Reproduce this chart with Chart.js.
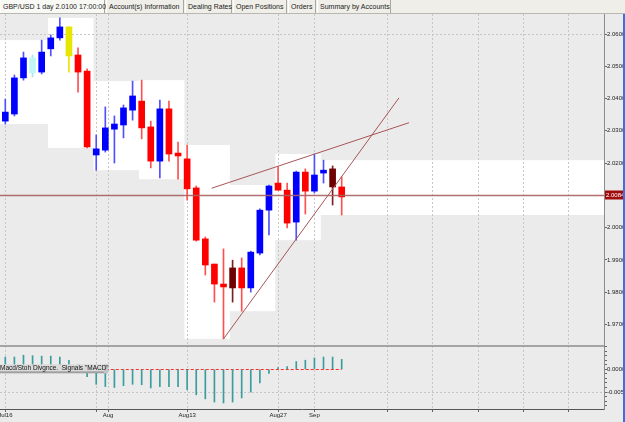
<!DOCTYPE html>
<html>
<head>
<meta charset="utf-8">
<script src="https://cdn.jsdelivr.net/npm/chart.js@4.4.0/dist/chart.umd.min.js"></script>
<style>
  html, body { margin: 0; padding: 0; background: #ebebeb; overflow: hidden; }
  #tabs { position: absolute; left: 0; top: 0; width: 625px; height: 13px; background: #efeee8;
          border-bottom: 1px solid #b8b8b0; font: 7px "Liberation Sans", Arial, sans-serif; color: #222;
          white-space: nowrap; }
  .tab { position: absolute; top: 0; height: 13px; line-height: 13px; box-sizing: border-box;
         border-right: 1px solid #a8a8a0; border-left: 1px solid #fff; padding-left: 2px; }
  .tab.sel { background: #f8f8f4; }
  #wrap { position: absolute; left: 0; top: 14px; width: 625px; height: 408px; }
</style>
</head>
<body>
<div id="tabs">
  <span class="tab sel" style="left:0;width:105px">GBP/USD 1 day 2.0100 17:00:00</span>
  <span class="tab" style="left:106px;width:78px">Account(s) Information</span>
  <span class="tab" style="left:185px;width:47px">Dealing Rates</span>
  <span class="tab" style="left:233px;width:54px">Open Positions</span>
  <span class="tab" style="left:288px;width:28px">Orders</span>
  <span class="tab" style="left:317px;width:74px">Summary by Accounts</span>
</div>
<div id="wrap"><canvas id="chart" width="625" height="408"></canvas></div>
<script>
// GBP/USD daily candles, Jul 16 - Sep 5
const days = ['Jul16','Jul17','Jul18','Jul19','Jul20','Jul23','Jul24','Jul25','Jul26','Jul27',
              'Jul30','Jul31','Aug01','Aug02','Aug03','Aug06','Aug07','Aug08','Aug09','Aug10',
              'Aug13','Aug14','Aug15','Aug16','Aug17','Aug20','Aug21','Aug22','Aug23','Aug24',
              'Aug27','Aug28','Aug29','Aug30','Aug31','Sep03','Sep04','Sep05'];

const open  = [2.0330,2.0352,2.0464,2.0526,2.0482,2.0554,2.0588,2.0622,2.0535,2.0485,
               2.0225,2.0240,2.0305,2.0318,2.0364,2.0392,2.0312,2.0206,2.0368,2.0231,
               2.0213,2.0123,1.9965,1.9887,1.9825,1.9813,1.9875,1.9813,1.9921,2.0054,
               2.0138,2.0116,2.0017,2.0172,2.0113,2.0169,2.0182,2.0126];
const high  = [2.0398,2.0473,2.0544,2.0535,2.0581,2.0597,2.0650,2.0622,2.0557,2.0492,
               2.0287,2.0374,2.0346,2.0380,2.0454,2.0457,2.0330,2.0395,2.0392,2.0265,
               2.0256,2.0129,1.9971,1.9887,1.9934,1.9899,1.9906,1.9927,2.0058,2.0132,
               2.0188,2.0138,2.0175,2.0182,2.0228,2.0209,2.0191,2.0157];
const low   = [2.0321,2.0346,2.0457,2.0467,2.0476,2.0532,2.0581,2.0482,2.0420,2.0247,
               2.0178,2.0234,2.0200,2.0278,2.0333,2.0275,2.0185,2.0154,2.0206,2.0150,
               2.0085,1.9958,1.9853,1.9769,1.9655,1.9769,1.9741,1.9800,1.9915,1.9977,
               2.0116,1.9999,1.9961,2.0042,2.0107,2.0138,2.0070,2.0039];
const close = [2.0358,2.0464,2.0526,2.0479,2.0544,2.0588,2.0622,2.0532,2.0482,2.0250,
               2.0244,2.0309,2.0321,2.0371,2.0408,2.0309,2.0206,2.0368,2.0228,2.0222,
               2.0120,1.9961,1.9884,1.9825,1.9816,1.9875,1.9813,1.9924,2.0054,2.0129,
               2.0116,2.0014,2.0172,2.0113,2.0163,2.0178,2.0126,2.0095];
const candleType = ['up','up','up','cyan','up','up','up','yellow','down','down',
                    'up','up','up','up','up','down','down','up','down','down',
                    'down','down','down','down','down','maroon','down','up','up','up',
                    'down','down','up','down','up','up','maroon','down'];

// MACD histogram
const macd = [0.0027,0.0027,0.0031,0.0030,0.0029,0.0029,0.0027,0.0020,0.0010,-0.0016,
              -0.0033,-0.0038,-0.0040,-0.0036,-0.0033,-0.0034,-0.0041,-0.0038,-0.0038,-0.0038,
              -0.0045,-0.0056,-0.0065,-0.0072,-0.0074,-0.0072,-0.0063,-0.0050,-0.0030,-0.0009,
              0.0004,0.0006,0.0017,0.0020,0.0025,0.0027,0.0027,0.0022];

// trend lines (x = bar index, y = price)
const upperLine = [{x: 22.7, y: 2.0122}, {x: 44.4, y: 2.0325}];
const lowerLine = [{x: 24, y: 1.9655}, {x: 43.3, y: 2.0402}];

const lastPrice = 2.0100;
const priceTag = '2.0084';

// axes
const priceTicks = [1.97, 1.98, 1.99, 2.00, 2.01, 2.02, 2.03, 2.04, 2.05, 2.06];
const macdTicks = [-0.008,-0.007,-0.006,-0.005,-0.004,-0.003,-0.002,-0.001,0,0.001,0.002,0.003,0.004,0.005];
const macdTickText = ['','','','-0.0050','','','','','0.0000','','','','',''];
const xTickPos  = [0, 10, 11.3, 20, 30, 34, 42, 47, 52, 57, 62];
const xTickText = ['Jul16', '', 'Aug', 'Aug13', 'Aug27', 'Sep', '', '', '', '', ''];

const bodyColor = {up: '#0000ff', down: '#ff0000', cyan: '#c2f5f5', yellow: '#e6e600', maroon: '#6e0000'};
const wickColor = {up: '#5050ff', down: '#ff5050', cyan: '#a8e8e8', yellow: '#e6e600', maroon: '#7a2020'};

Chart.defaults.font.family = '"Liberation Sans", Arial, sans-serif';

const backdrop = {
  id: 'backdrop',
  beforeDraw(chart) {
    const {ctx, chartArea: a, scales: {x, y}} = chart;
    ctx.save();
    ctx.fillStyle = '#ebebeb';
    ctx.fillRect(0, 0, chart.width, chart.height);
    // weekly high/low boxes
    ctx.fillStyle = '#ffffff';
    const weeks = Math.ceil(days.length / 5);
    for (let w = 0; w < weeks; w++) {
      let hi = -Infinity, lo = Infinity;
      for (let i = w * 5; i < Math.min(days.length, w * 5 + 5); i++) {
        hi = Math.max(hi, high[i]);
        lo = Math.min(lo, low[i]);
      }
      const x0 = w === 0 ? a.left : x.getPixelForValue(w * 5 - 0.3);
      const x1 = w === weeks - 1 ? a.right : x.getPixelForValue(w * 5 + 4.7);
      const y0 = y.getPixelForValue(hi), y1 = y.getPixelForValue(lo);
      ctx.fillRect(x0, y0, x1 - x0, y1 - y0);
    }
    ctx.restore();
  },
  beforeDatasetsDraw(chart) {
    // MACD zero/signal line over the data range
    const {ctx, scales: {x, y2}} = chart;
    const zy = Math.round(y2.getPixelForValue(0)) + 0.5;
    ctx.save();
    ctx.strokeStyle = '#ff2a2a';
    ctx.lineWidth = 1;
    ctx.setLineDash([3, 2]);
    ctx.beginPath();
    ctx.moveTo(x.getPixelForValue(-0.5), zy);
    ctx.lineTo(x.getPixelForValue(days.length - 1), zy);
    ctx.stroke();
    ctx.restore();
  },
  afterDraw(chart) {
    const {ctx, chartArea: a, scales: {y, y2}} = chart;
    ctx.save();
    // price line + tag
    const py = Math.round(y.getPixelForValue(lastPrice)) + 0.5;
    ctx.strokeStyle = 'rgba(168,96,96,0.9)';
    ctx.lineWidth = 1.5;
    ctx.beginPath(); ctx.moveTo(a.left, py); ctx.lineTo(a.right, py); ctx.stroke();
    ctx.fillStyle = '#a00c0c';
    ctx.fillRect(a.right + 1, py - 5, 18, 9);
    ctx.fillStyle = '#ffffff';
    ctx.font = '6px "Liberation Sans", Arial, sans-serif';
    ctx.textBaseline = 'middle';
    ctx.fillText(priceTag, a.right + 2, py);
    // pane separator
    ctx.fillStyle = '#a4a4a4';
    ctx.fillRect(a.left, y2.top - 1, a.right - a.left, 2);
    // indicator caption
    const zy = y2.getPixelForValue(0);
    ctx.fillStyle = '#dadada';
    ctx.fillRect(0, zy - 5, 104, 8);
    ctx.fillStyle = '#a0a0a0';
    ctx.fillRect(0, zy + 2, 104, 2);
    ctx.fillStyle = '#c4c4c4';
    ctx.fillRect(104, zy - 5, 4, 9);
    ctx.fillStyle = '#111';
    ctx.font = '6.5px "Liberation Sans", Arial, sans-serif';
    ctx.textBaseline = 'middle';
    ctx.fillText('Macd/Stoh Divgnce.  Signals "MACD"', 0, zy - 1);
    // window border
    ctx.fillStyle = '#3f6ee0';
    ctx.fillRect(chart.width - 2, 0, 2, chart.height);
    ctx.restore();
  }
};

new Chart(document.getElementById('chart'), {
  data: {
    datasets: [
      {
        type: 'line', label: 'upper', data: upperLine, xAxisID: 'x', yAxisID: 'y',
        borderColor: '#a85656', borderWidth: 1, pointRadius: 0, order: 0
      },
      {
        type: 'line', label: 'lower', data: lowerLine, xAxisID: 'x', yAxisID: 'y',
        borderColor: '#a85656', borderWidth: 1, pointRadius: 0, order: 0
      },
      {
        type: 'bar', label: 'body', yAxisID: 'y', grouped: false, order: 2,
        data: days.map((d, i) => ({x: i, y: [open[i], close[i]]})),
        backgroundColor: candleType.map(t => bodyColor[t]),
        barThickness: 6, minBarLength: 2, borderWidth: 0
      },
      {
        type: 'bar', label: 'wick', yAxisID: 'y', grouped: false, order: 3,
        data: days.map((d, i) => ({x: i, y: [low[i], high[i]]})),
        backgroundColor: candleType.map(t => wickColor[t]),
        barThickness: 1, borderWidth: 0
      },
      {
        type: 'bar', label: 'MACD', yAxisID: 'y2', grouped: false, order: 1,
        data: days.map((d, i) => ({x: i, y: macd[i]})),
        backgroundColor: '#3a9c9c', barThickness: 1, borderWidth: 0
      }
    ]
  },
  options: {
    responsive: false,
    animation: false,
    layout: {padding: 0},
    plugins: {legend: {display: false}, tooltip: {enabled: false}},
    scales: {
      x: {
        type: 'linear', position: 'bottom', min: -0.583, max: 65.85, offset: false,
        afterBuildTicks: s => { s.ticks = xTickPos.map(v => ({value: v})); },
        afterFit: s => { s.height = 13; s.paddingLeft = 0; s.paddingRight = 0; },
        ticks: {autoSkip: false, maxRotation: 0, padding: 0, color: '#222', font: {size: 6},
                callback: (v, i) => xTickText[i]},
        grid: {offset: false, color: '#c6c6c6', tickLength: 3, tickColor: '#666'},
        border: {color: '#555', width: 1, dash: [2, 2]}
      },
      y: {
        type: 'linear', position: 'right', stack: 'panes', stackWeight: 332,
        min: 1.9633, max: 2.0662,
        afterBuildTicks: s => { s.ticks = priceTicks.map(v => ({value: v})); },
        afterFit: s => { s.width = 21; s.paddingTop = 0; s.paddingBottom = 0; },
        ticks: {padding: 0, color: '#222', font: {size: 6}, callback: v => v.toFixed(4)},
        grid: {color: c => (c.tick && Math.abs(c.tick.value - 2.06) < 1e-6) ? '#c6c6c6' : 'rgba(0,0,0,0)',
               tickLength: 3, tickColor: '#666'},
        border: {color: '#8c8c8c', width: 1, dash: [2, 2]}
      },
      y2: {
        type: 'linear', position: 'right', stack: 'panes', stackWeight: 63,
        min: -0.00873, max: 0.00513,
        afterBuildTicks: s => { s.ticks = macdTicks.map(v => ({value: v})); },
        afterFit: s => { s.width = 21; s.paddingTop = 0; s.paddingBottom = 0; },
        ticks: {padding: 0, color: '#222', font: {size: 6}, autoSkip: false,
                callback: (v, i) => macdTickText[i]},
        grid: {color: c => (c.tick && Math.abs(c.tick.value + 0.005) < 1e-9) ? '#c6c6c6' : 'rgba(0,0,0,0)',
               tickLength: 3, tickColor: '#666'},
        border: {color: '#8c8c8c', width: 1, dash: [2, 2]}
      }
    }
  },
  plugins: [backdrop]
});
</script>
</body>
</html>
